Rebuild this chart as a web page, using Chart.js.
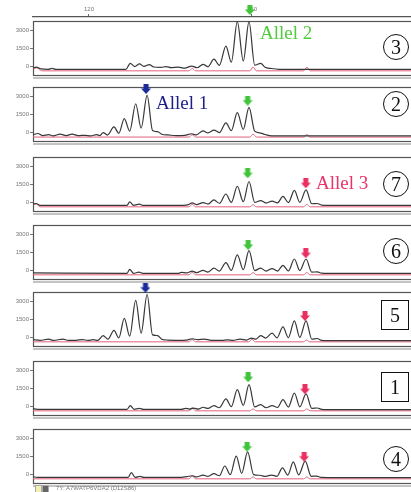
<!DOCTYPE html>
<html>
<head>
<meta charset="utf-8">
<script src="https://cdn.jsdelivr.net/npm/chart.js@4.4.1/dist/chart.umd.min.js"></script>
<style>
body { margin: 0; width: 411px; height: 492px; overflow: hidden; background: #fff; position: relative; }
.wrap { position: absolute; left: 0; width: 440px; }
.lab { position: absolute; font-family: "Liberation Serif", "Times New Roman", serif; font-size: 19px; line-height: 20px; white-space: nowrap; }
.num { position: absolute; box-sizing: border-box; width: 26px; height: 26px; border: 1.3px solid #111; border-radius: 50%;
       font-family: "Liberation Serif", serif; font-size: 20px; line-height: 24px; text-align: center; color: #111; background: #fff; }
.sq { border-radius: 0; width: 28px; height: 30px; line-height: 28px; }
.foot { position: absolute; left: 56px; top: 485px; font-family: "Liberation Sans", sans-serif; font-size: 6px; color: #777; }
</style>
</head>
<body>

<div class="wrap" style="top:0px;height:20px"><canvas id="ruler" width="440" height="20"></canvas></div>
<div id="panels"></div>

<div class="lab" style="left:260px;top:23px;color:#52cc3e">Allel 2</div>
<div class="lab" style="left:156px;top:93px;color:#1c1f86">Allel 1</div>
<div class="lab" style="left:316px;top:173px;color:#e8336b">Allel 3</div>

<div class="num" style="left:383px;top:34px">3</div>
<div class="num" style="left:383px;top:91px">2</div>
<div class="num" style="left:383px;top:171px">7</div>
<div class="num" style="left:383px;top:238px">6</div>
<div class="num sq" style="left:381px;top:300px">5</div>
<div class="num sq" style="left:381px;top:372px">1</div>
<div class="num" style="left:383px;top:446px">4</div>

<div style="position:absolute;left:35px;top:485px;width:5px;height:6px;background:#f3efb0;border:1px solid #aaa"></div>
<div style="position:absolute;left:42px;top:485px;width:5px;height:6px;background:#666;border:1px solid #aaa"></div>
<div class="foot">7Y: A7WATP6VDA2 (D12S86)</div>

<script>
// size axis (bp) and signal axis (rfu)
var xMin = 109.7, xMax = 184.6;
var yMin = -730, yMax = 3810;
var yTicks = [0, 1500, 3000];
var rulerTicks = [120, 150];

var panelNames = ["3", "2", "7", "6", "5", "1", "4"];

// black traces [bp, rfu]
var black3 = [[109.7,-150],[110.3,-60],[111.2,-220],[112.5,-250],[113.2,-170],[113.9,-250],[126.8,-250],[127.6,250],[128.4,-20],[129.3,200],[130.1,0],[131.1,150],[131.9,-60],[133.2,-90],[134.2,-30],[135.1,-110],[136.4,-60],[137.6,-150],[138.9,20],[139.9,-120],[141.0,170],[141.9,-40],[143.0,600],[144.0,80],[145.2,1700],[146.2,350],[147.3,3750],[148.4,450],[149.45,3750],[150.5,100],[151.6,250],[152.4,-80],[153.5,-180],[155.0,-250],[184.6,-250]];
var black2 = [[109.7,-200],[110.6,-100],[111.5,-280],[112.6,-200],[113.4,-300],[114.7,-160],[115.8,-280],[116.9,-150],[118.0,-280],[119.3,-250],[120.3,-300],[121.4,-200],[122.0,-270],[122.6,-20],[123.4,-230],[124.6,450],[125.5,-80],[126.5,1150],[127.5,100],[128.6,2400],[129.6,350],[130.7,3100],[131.7,150],[132.6,50],[133.5,-180],[134.5,-220],[136.0,-280],[137.6,-260],[138.9,-120],[139.7,-220],[141.0,120],[141.9,-50],[143.0,180],[144.0,-20],[145.2,800],[146.2,150],[147.3,1650],[148.4,250],[149.45,2100],[150.5,100],[151.6,-60],[152.4,-180],[153.6,-300],[184.6,-300]];
var black7 = [[109.7,-150],[110.3,-100],[111.0,-250],[127.0,-250],[127.5,30],[128.2,-250],[129.3,-150],[129.9,-250],[137.4,-250],[138.3,-200],[139.0,-50],[139.8,-200],[141.0,-20],[141.9,-150],[143.0,200],[144.0,-80],[145.2,700],[146.2,0],[147.3,1350],[148.4,50],[149.45,1750],[150.5,0],[151.6,150],[152.6,-60],[153.7,100],[154.7,-50],[155.7,500],[156.7,-20],[157.8,1000],[158.8,0],[159.95,1050],[161.0,-120],[162.0,-100],[162.8,-230],[164.0,-260],[184.6,-260]];
var black6 = [[109.7,-220],[127.0,-250],[127.5,80],[128.2,-250],[129.2,-160],[129.9,-250],[136.5,-250],[137.0,-180],[138.0,-220],[139.0,-60],[139.8,-200],[141.0,0],[141.9,-150],[143.0,180],[144.0,-60],[145.2,650],[146.2,0],[147.3,1300],[148.4,50],[149.45,1650],[150.5,-20],[151.6,180],[152.6,-60],[153.7,140],[154.7,-60],[155.7,420],[156.7,-50],[157.8,950],[158.8,-20],[159.95,950],[161.0,-150],[162.0,-130],[162.8,-240],[164.0,-260],[184.6,-260]];
var black5 = [[109.7,-200],[111.0,-250],[112.6,-160],[113.5,-260],[115.2,-150],[116.2,-250],[117.6,-250],[118.8,-190],[119.8,-260],[120.8,-200],[121.6,-260],[122.6,140],[123.5,-150],[124.6,580],[125.5,-50],[126.5,1590],[127.5,100],[128.6,3100],[129.6,350],[130.7,3600],[131.7,200],[132.6,150],[133.5,-180],[134.5,-230],[136.5,-260],[138.0,-230],[139.0,-120],[140.0,-200],[141.2,-150],[142.5,-250],[144.5,-260],[145.5,-220],[146.5,-260],[147.8,-150],[149.0,-230],[149.9,-60],[150.7,-160],[151.6,140],[152.5,-60],[153.7,350],[154.6,-40],[155.7,870],[156.7,-30],[157.8,1390],[158.8,0],[159.95,1390],[161.0,-150],[162.0,-100],[162.8,-250],[164.0,-270],[184.6,-270]];
var black1 = [[109.7,-200],[110.5,-250],[127.0,-250],[127.6,60],[128.3,-250],[129.3,-170],[130.0,-250],[137.0,-250],[137.8,-170],[138.5,-230],[139.3,-150],[140.1,-230],[141.0,-80],[141.9,-180],[143.0,60],[144.0,-120],[145.2,620],[146.2,-30],[147.3,1400],[148.4,80],[149.45,1820],[150.5,-50],[151.6,140],[152.6,-120],[153.7,60],[154.7,-100],[155.7,560],[156.7,-60],[157.8,1120],[158.8,-40],[159.95,1040],[161.0,-170],[162.0,-140],[162.8,-250],[164.0,-270],[184.6,-270]];
var black4 = [[109.7,-200],[110.5,-260],[127.2,-260],[127.8,140],[128.5,-260],[129.4,-180],[130.1,-260],[137.0,-260],[138.0,-200],[139.0,-120],[139.8,-220],[141.0,-60],[141.9,-180],[143.0,50],[144.0,-120],[145.0,700],[146.0,-30],[147.1,1530],[148.1,80],[149.2,1890],[150.3,-30],[151.4,-80],[152.5,-170],[153.6,-60],[154.6,-170],[155.6,550],[156.6,-60],[157.6,1050],[158.6,-40],[159.8,1110],[160.9,-170],[161.9,-150],[162.7,-260],[164.0,-270],[184.6,-270]];

// red traces [bp, rfu]
var red3 = [[109.7,-200],[110.4,-130],[111.3,-380],[138.4,-380],[139.0,-180],[139.6,-380],[149.6,-380],[150.2,-60],[150.8,-380],[159.5,-380],[160.1,-80],[160.7,-380],[184.6,-380]];
var red2 = [[109.7,-400],[138.4,-400],[139.0,-200],[139.6,-400],[149.6,-400],[150.2,-150],[150.8,-400],[159.6,-400],[160.1,-170],[160.6,-400],[184.6,-400]];
var red7 = [[109.7,-200],[110.3,-130],[111.0,-380],[138.4,-380],[139.0,-170],[139.6,-380],[149.6,-380],[150.2,-200],[150.8,-380],[159.5,-380],[160.1,-170],[160.7,-380],[184.6,-380]];
var red6 = [[109.7,-380],[138.4,-380],[139.0,-170],[139.6,-380],[149.6,-380],[150.2,-190],[150.8,-380],[159.5,-380],[160.1,-190],[160.7,-380],[184.6,-380]];
var red5 = [[109.7,-380],[138.4,-380],[139.0,-190],[139.6,-380],[149.4,-380],[150.0,-170],[150.6,-380],[159.5,-380],[160.0,-220],[160.6,-380],[184.6,-380]];
var red1 = [[109.7,-380],[138.4,-380],[139.0,-100],[139.6,-380],[149.6,-380],[150.2,-220],[150.8,-380],[159.5,-380],[160.1,-220],[160.7,-380],[184.6,-380]];
var red4 = [[109.7,-380],[138.4,-380],[139.0,-120],[139.6,-380],[149.6,-380],[150.2,-220],[150.8,-380],[159.5,-380],[160.1,-220],[160.7,-380],[184.6,-380]];

// allele arrows [bp, rfu], one per panel (null = none)
var greenArrows = [[149.6,4735],[149.2,2658],[149.2,2439],[149.3,2128],null,[149.3,2439],[149.1,2321]];
var blueArrows  = [null,[130.5,3642],null,null,[130.4,4172],null,null];
var redArrows   = [null,null,[159.9,1598],[159.9,1430],[159.75,1792],[159.75,1430],[159.6,1480]];

var blacks = [black3, black2, black7, black6, black5, black1, black4];
var reds = [red3, red2, red7, red6, red5, red1, red4];
var panelTops = [21, 87, 157, 225, 292, 361, 429];
var panelH = 54;

function arrowImg(color) {
    var c = document.createElement('canvas');
    c.width = 10; c.height = 10;
    var g = c.getContext('2d');
    g.fillStyle = color;
    g.fillRect(2.5, 0, 5, 5);
    g.beginPath();
    g.moveTo(0, 4.5); g.lineTo(10, 4.5); g.lineTo(5, 10);
    g.closePath();
    g.fill();
    return c;
}
var greenImg = arrowImg('#3fc43a');
var blueImg = arrowImg('#1a2a9a');
var redImg = arrowImg('#ea2f62');

// frame around each plot area, bottom edge doubled like the print
var boxPlugin = {
    id: 'box',
    beforeDatasetsDraw: function (chart) {
        var a = chart.chartArea, g = chart.ctx;
        g.save();
        g.strokeStyle = '#555';
        g.lineWidth = 1.2;
        g.strokeRect(a.left + 0.5, a.top + 0.5, a.right - a.left, a.bottom - a.top);
        g.strokeStyle = '#888';
        g.lineWidth = 1;
        g.beginPath();
        g.moveTo(a.left, a.bottom + 3);
        g.lineTo(a.right, a.bottom + 3);
        g.stroke();
        g.restore();
    }
};

function plainTick(v) { return String(v); }

Chart.defaults.font.family = '"Liberation Sans", Arial, sans-serif';
Chart.defaults.animation = false;

// ruler with bp size marks above the first panel
new Chart(document.getElementById('ruler'), {
    type: 'line',
    data: { datasets: [] },
    options: {
        responsive: false,
        layout: { autoPadding: false, padding: { left: 33, right: 0, top: 0, bottom: 2 } },
        plugins: { legend: { display: false }, tooltip: { enabled: false } },
        scales: {
            x: {
                type: 'linear', position: 'top', min: xMin, max: xMax,
                afterBuildTicks: function (s) { s.ticks = rulerTicks.map(function (v) { return { value: v }; }); },
                afterFit: function (s) { s.height = 17; },
                grid: { drawOnChartArea: false, tickLength: 3, color: '#666' },
                border: { color: '#555', width: 1.3 },
                ticks: { color: '#777', font: { size: 6 }, padding: 1, maxRotation: 0, callback: plainTick }
            },
            y: { display: false, min: 0, max: 1 }
        }
    }
});

var holder = document.getElementById('panels');
for (var i = 0; i < panelNames.length; i++) {
    var wrap = document.createElement('div');
    wrap.className = 'wrap';
    wrap.style.top = (panelTops[i] - 18) + 'px';
    wrap.style.height = (panelH + 24) + 'px';
    var cv = document.createElement('canvas');
    cv.width = 440;
    cv.height = panelH + 24;
    wrap.appendChild(cv);
    holder.appendChild(wrap);

    var sets = [
        { data: blacks[i], borderColor: '#383838', borderWidth: 1.2, pointRadius: 0, cubicInterpolationMode: 'monotone' },
        { data: reds[i], borderColor: '#e0607a', borderWidth: 1, pointRadius: 0, cubicInterpolationMode: 'monotone' }
    ];
    // big radius only widens the in-area test so arrows above the frame still draw
    if (greenArrows[i]) sets.unshift({ data: [greenArrows[i]], showLine: false, pointStyle: greenImg, pointRadius: 16, clip: false });
    if (blueArrows[i]) sets.unshift({ data: [blueArrows[i]], showLine: false, pointStyle: blueImg, pointRadius: 16, clip: false });
    if (redArrows[i]) sets.unshift({ data: [redArrows[i]], showLine: false, pointStyle: redImg, pointRadius: 16, clip: false });

    new Chart(cv, {
        type: 'line',
        data: { datasets: sets },
        options: {
            responsive: false,
            layout: { autoPadding: false, padding: { left: 0, right: 0, top: 18, bottom: 6 } },
            plugins: { legend: { display: false }, tooltip: { enabled: false } },
            scales: {
                x: { type: 'linear', display: false, min: xMin, max: xMax },
                y: {
                    min: yMin, max: yMax,
                    afterBuildTicks: function (s) { s.ticks = yTicks.map(function (v) { return { value: v }; }); },
                    afterFit: function (s) { s.width = 33; },
                    grid: { drawOnChartArea: false, tickLength: 3, color: '#777' },
                    border: { display: false },
                    ticks: { color: '#777', font: { size: 6 }, padding: 1, callback: plainTick }
                }
            }
        },
        plugins: [boxPlugin]
    });
}
</script>
</body>
</html>
